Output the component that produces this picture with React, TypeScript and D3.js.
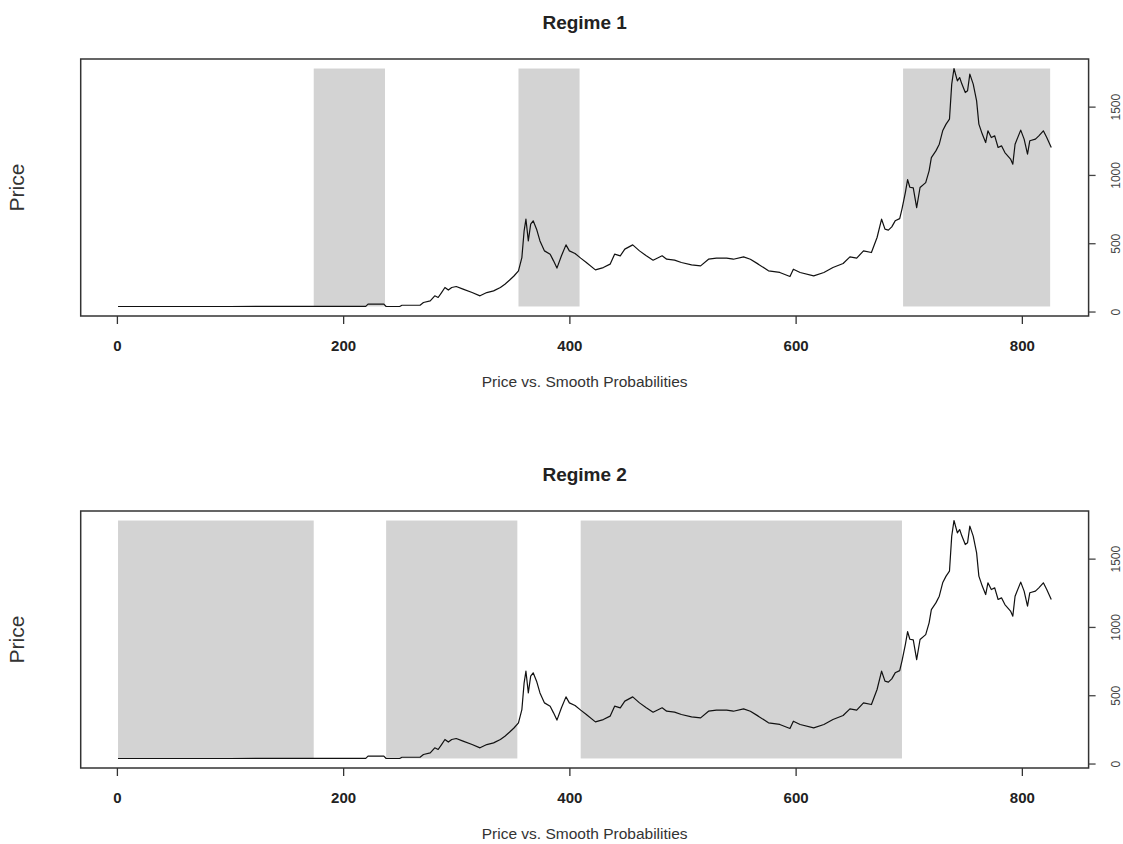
import React, { useEffect, useRef } from 'react';
import * as d3 from 'd3';

// time index / price
const priceIdx = [
  1, 100, 175, 220, 222, 236, 238, 250, 252, 268, 271, 277, 281, 284, 287, 290, 293, 296, 300, 306,
  314, 321, 327, 333, 339, 343, 347, 351, 355, 358, 360, 361.6, 363.7, 365.8, 368, 371, 374, 378, 383, 386,
  389, 393, 397, 400, 405, 410, 415, 423, 430, 436, 440, 445, 449, 456, 462, 468, 474, 482, 486, 493,
  499, 508, 516, 523, 530, 539, 545, 554, 560, 567, 576, 586, 595, 598, 604, 616, 625, 633, 642, 648,
  654, 660, 667, 672, 676, 679, 682, 685, 688, 692, 694, 697, 699, 701, 704, 707, 710, 715, 718, 720,
  724, 727, 730, 733, 736, 738, 740, 743, 745, 747, 750, 752, 754, 757, 760, 762, 765, 768, 770, 773,
  776, 779, 782, 785, 790, 792, 794, 799, 802, 805, 807, 812, 815, 819, 822, 826,
];
const priceVal = [
  37, 37, 38, 38, 54, 54, 37, 37, 46, 46, 66, 78, 115, 103, 139, 176, 157, 176, 183, 164,
  139, 115, 139, 151, 176, 200, 229, 260, 298, 395, 591, 676, 517, 640, 664, 603, 517, 444, 420, 371,
  318, 408, 488, 444, 425, 391, 359, 305, 322, 347, 420, 408, 457, 488, 444, 408, 376, 408, 383, 376,
  359, 342, 334, 383, 391, 391, 383, 400, 383, 347, 298, 286, 256, 310, 286, 261, 286, 322, 352, 400,
  391, 444, 432, 542, 676, 603, 596, 620, 664, 680, 750, 870, 965, 910, 905, 761, 908, 944, 1030, 1127,
  1176, 1225, 1323, 1372, 1408, 1665, 1779, 1689, 1713, 1665, 1603, 1616, 1738, 1665, 1542, 1372, 1299, 1237, 1323, 1274,
  1286, 1201, 1213, 1164, 1116, 1079, 1225, 1328, 1262, 1152, 1250, 1262, 1286, 1323, 1274, 1201,
];

// shaded periods (start / end index) for each regime
const regime1Start = [174, 355, 695];
const regime1End = [237, 409, 825];
const regime2Start = [1, 238, 410];
const regime2End = [174, 354, 694];

const xTicks = [0, 200, 400, 600, 800];
const yTicks = [0, 500, 1000, 1500];
const titles = ['Regime 1', 'Regime 2'];
const subTitle = 'Price vs. Smooth Probabilities';
const yLabel = 'Price';

const W = 1123;
const H = 844;
const box = { left: 80.7, right: 1088.6, top: 59, bottom: 316 };
const panelGap = 452;
const font = 'Liberation Sans, Arial, sans-serif';

// R style 4% axis padding
const pad = (lo: number, hi: number) => {
  const r = hi - lo;
  return [lo - 0.04 * r, hi + 0.04 * r];
};

export default function App() {
  const svgRef = useRef<SVGSVGElement>(null);

  useEffect(() => {
    const svg = d3.select(svgRef.current);
    svg.selectAll('*').remove();

    const data = priceIdx.map((d, i) => ({ t: d, p: priceVal[i] }));
    const [tMin, tMax] = d3.extent(priceIdx) as [number, number];
    const [pMin, pMax] = d3.extent(priceVal) as [number, number];

    const x = d3.scaleLinear().domain(pad(tMin, tMax)).range([box.left, box.right]);

    const panels = [
      { title: titles[0], starts: regime1Start, ends: regime1End },
      { title: titles[1], starts: regime2Start, ends: regime2End },
    ];

    panels.forEach((panel, k) => {
      const off = k * panelGap;
      const g = svg.append('g').attr('transform', `translate(0,${off})`);
      const y = d3.scaleLinear().domain(pad(pMin, pMax)).range([box.bottom, box.top]);

      // shaded regime periods
      g.selectAll('rect.shade')
        .data(panel.starts)
        .enter()
        .append('rect')
        .attr('class', 'shade')
        .attr('x', (d) => x(d))
        .attr('width', (d, i) => x(panel.ends[i]) - x(d))
        .attr('y', y(pMax))
        .attr('height', y(pMin) - y(pMax))
        .attr('fill', '#d3d3d3');

      // price line
      g.append('path')
        .datum(data)
        .attr(
          'd',
          d3
            .line<{ t: number; p: number }>()
            .x((d) => x(d.t))
            .y((d) => y(d.p))
        )
        .attr('fill', 'none')
        .attr('stroke', '#111')
        .attr('stroke-width', 1.2)
        .attr('stroke-linejoin', 'round');

      // box
      g.append('rect')
        .attr('x', box.left)
        .attr('y', box.top)
        .attr('width', box.right - box.left)
        .attr('height', box.bottom - box.top)
        .attr('fill', 'none')
        .attr('stroke', '#333')
        .attr('stroke-width', 1.5);

      // bottom axis
      g.append('g')
        .attr('transform', `translate(0,${box.bottom})`)
        .call(d3.axisBottom(x).tickValues(xTicks).tickSize(8).tickPadding(16))
        .call((a) => a.select('.domain').remove())
        .call((a) => a.selectAll('line').attr('stroke', '#333').attr('stroke-width', 1.3))
        .call((a) =>
          a
            .selectAll('text')
            .attr('fill', '#222')
            .style('font-family', font)
            .style('font-size', '15px')
            .style('font-weight', 'bold')
        );

      // right axis, rotated labels
      g.append('g')
        .attr('transform', `translate(${box.right},0)`)
        .call(d3.axisRight(y).tickValues(yTicks).tickSize(7).tickFormat(d3.format('d')))
        .call((a) => a.select('.domain').remove())
        .call((a) => a.selectAll('line').attr('stroke', '#444').attr('stroke-width', 1.3))
        .call((a) =>
          a
            .selectAll('text')
            .attr('x', 0)
            .attr('dy', null)
            .attr('transform', 'translate(27,0) rotate(-90)')
            .attr('text-anchor', 'middle')
            .attr('dominant-baseline', 'central')
            .attr('fill', '#444')
            .style('font-family', font)
            .style('font-size', '12px')
        );

      // title
      g.append('text')
        .attr('x', (box.left + box.right) / 2)
        .attr('y', 29)
        .attr('text-anchor', 'middle')
        .attr('fill', '#222')
        .style('font-family', font)
        .style('font-size', '19px')
        .style('font-weight', 'bold')
        .text(panel.title);

      // sub title
      g.append('text')
        .attr('x', (box.left + box.right) / 2)
        .attr('y', 387)
        .attr('text-anchor', 'middle')
        .attr('fill', '#333')
        .style('font-family', font)
        .style('font-size', '15.5px')
        .text(subTitle);

      // y label
      g.append('text')
        .attr('transform', `translate(24,${(box.top + box.bottom) / 2}) rotate(-90)`)
        .attr('text-anchor', 'middle')
        .attr('fill', '#333')
        .style('font-family', font)
        .style('font-size', '21px')
        .text(yLabel);
    });
  }, []);

  return (
    <div style={{ position: 'absolute', left: 0, top: 0, background: '#fff' }}>
      <svg ref={svgRef} width={W} height={H} style={{ display: 'block' }} />
    </div>
  );
}
